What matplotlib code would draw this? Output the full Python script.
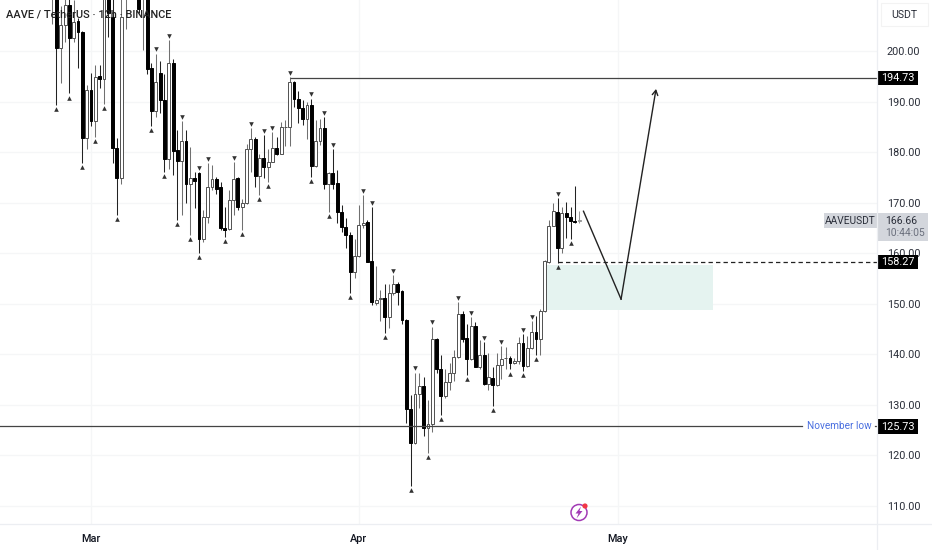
import matplotlib
matplotlib.use("Agg")
import matplotlib.pyplot as plt
from matplotlib.patches import Rectangle, Circle, Polygon
from matplotlib.transforms import blended_transform_factory

plt.rcParams['font.family'] = ['Roboto', 'DejaVu Sans']

# 12h candles, first one is 9 bars before 1 March (index 0)
FIRST_BAR = -9
opens = [212, 215, 200.5, 205.1, 209.1, 202.5, 205.9, 203.8, 182.7, 192.2,
         186.2, 195, 194.5, 214, 206.8, 180.9, 174.8, 212, 216, 218,
         215, 212, 215, 196.6, 188.1, 195.7, 190.4, 178.6, 197.6, 180.4,
         178.2, 182.1, 173.7, 174.8, 175.8, 162.8, 167.1, 173, 174.6, 173,
         165, 164.7, 170.5, 174.8, 169.2, 170, 180.7, 182.6, 175.3, 178.8,
         177.1, 178, 180.9, 179.6, 184.9, 184.9, 193.8, 190.6, 188.8, 186.5,
         189.3, 177.3, 182.1, 184.7, 173.7, 175.9, 173.8, 168.1, 165.2, 163.7,
         156.3, 159.5, 165.6, 166.1, 158.4, 150.2, 151, 151.1, 147.4, 152.1,
         154, 152.5, 146.8, 129.2, 122.5, 132.1, 133.8, 125.4, 126.3, 143,
         137.1, 131.8, 134.6, 136.4, 139.4, 148, 143.2, 139, 145.6, 137.5,
         139.8, 134.1, 135.4, 133.9, 137.9, 139.2, 139.3, 138.3, 138.7, 142.2,
         137.6, 141.2, 144.5, 143, 148.5, 158.2, 165.4, 168.1, 161, 167.9,
         167.2, 166.4, 166.3]
closes = [215, 200.5, 205.1, 209.1, 202.5, 205.8, 203.8, 182.7, 192.2, 186.2,
          194.9, 194.5, 214, 207.5, 180.9, 174.8, 206.7, 216, 218, 215,
          208.3, 216, 196.4, 188.1, 193.9, 190.3, 178.6, 197.6, 180.3, 178.2,
          182.1, 173.7, 174.8, 174.2, 162.8, 167.1, 173, 174.6, 172.8, 164.9,
          164.6, 170.5, 174.6, 169.2, 170, 180.7, 182.5, 175.3, 178.8, 177.1,
          178, 180.9, 179.6, 184.9, 185, 193.8, 190.6, 188.8, 186.5, 189.3,
          177.3, 182.1, 184.7, 173.7, 175.8, 173.7, 168.1, 165.2, 163.6, 156.3,
          159.5, 165.6, 166, 158.3, 150.3, 150.8, 151.1, 147.4, 152.1, 154,
          152.4, 146.7, 129.2, 122.5, 132.1, 133.8, 125.4, 126.3, 143, 137.1,
          131.8, 134.6, 136.4, 139.4, 148, 143.1, 139, 145.6, 137.5, 139.8,
          134.1, 135.5, 133.9, 137.9, 139, 139.3, 138.3, 138.7, 142.2, 137.6,
          141.2, 144.5, 143, 148.5, 158.4, 165.4, 168.3, 161, 167.9, 167.1,
          166.4, 166.2, 166.66]
highs = [216, 216, 209, 212, 211, 210.1, 206.5, 204, 193.3, 195.7,
         197.2, 197.2, 216, 216, 212, 182.7, 215, 218, 220, 219,
         218, 218, 218, 197.7, 199.5, 198, 195.4, 202.2, 198.5, 184.4,
         186.2, 184.4, 181, 176.1, 176.1, 168.5, 177.8, 177.4, 175, 174,
         169.2, 172.5, 178, 175.1, 170.8, 181.7, 184.8, 182.9, 179.7, 183.3,
         180.7, 184, 183, 186, 186.3, 194.9, 194.1, 192, 190.4, 190,
         190.6, 186.3, 186.6, 187, 176.1, 180.7, 176.4, 169.5, 166.9, 164.2,
         162.9, 169.5, 171.5, 166.6, 169.2, 157.4, 152.7, 153.9, 154, 155.7,
         154.4, 152.7, 146.9, 132, 136.4, 136.4, 135.6, 130.9, 145.5, 143.2,
         139.8, 137, 138.3, 140.8, 150.3, 148.5, 146, 147.4, 146.4, 142.9,
         142.4, 140.2, 137.5, 140.2, 141.6, 141.4, 139.7, 139.2, 143.4, 144.1,
         143.6, 146.6, 147.5, 148.9, 158.7, 166.6, 169.9, 170.9, 169.2, 170.2,
         169.2, 173.2, 168.3]
lows = [205.4, 189.3, 193.6, 201.8, 191.6, 201.8, 196.6, 177.8, 180.7, 185.2,
        183, 192.6, 189.6, 202.8, 177.8, 167.6, 173.6, 204.3, 213, 213,
        207.5, 200.2, 195.4, 185.2, 187, 187.8, 176.1, 176.6, 175.5, 166.6,
        167.6, 169.9, 163.6, 168.9, 160.1, 162.3, 165.9, 172.5, 171.8, 164.6,
        163.3, 164.6, 167.5, 168.5, 164.6, 169.7, 176.1, 173, 171.5, 174.8,
        174.1, 178, 179.4, 179.6, 181.2, 181.2, 189, 185.7, 185.4, 182.5,
        175.1, 177.1, 181.5, 172.8, 168.2, 172.8, 165.9, 164.2, 161.1, 152.1,
        155.1, 159.3, 165, 158.2, 149.8, 149.8, 146.5, 144.2, 145.2, 151.8,
        149.8, 146, 126.5, 114, 122.2, 129.4, 123.8, 120.4, 124.7, 136.4,
        128, 131.3, 133, 134.7, 139.3, 142.5, 136, 138.8, 137.4, 137,
        133.9, 132.9, 129.8, 133.7, 135.1, 137, 137, 138, 138, 136.7,
        137.4, 141, 139.8, 139.9, 148.4, 158, 165.3, 158.1, 160, 163,
        162.8, 165.9, 166]

swing_high_bars = [15, 18, 21, 25, 27, 33, 37, 40, 42, 46, 51, 54, 56, 63, 65,
                   70, 75, 79, 85, 88, 91, 95, 100, 102, 108]
swing_low_bars = [-8, -5, -2, 1, 3, 6, 14, 17, 20, 23, 25, 31, 35, 39, 41, 51,
                  55, 60, 68, 74, 78, 81, 87, 93, 97, 100, 103, 108, 111]

price_ticks = [110, 120, 130, 140, 150, 160, 170, 180, 190, 200]
month_bars = [0, 62, 122]
month_labels = ["Mar", "Apr", "May"]

resistance = 194.73
zone_top = 157.7
dashed_level = 158.27
november_low = 125.73
last_price = 166.66
zone_bottom = 148.7
zone_bars = [105, 144]
path_bars = [114, 122.7, 130.8]
path_prices = [168.3, 150.9, 192.5]

INK = "#131722"
TEXT = "#2a2e39"
PX = 4.32   # pixels per bar

fig = plt.figure(figsize=(9.32, 5.5), dpi=100, facecolor="white")
ax = fig.add_axes([0, 26/550, 877/932, 524/550])
ax.set_xlim(-91/PX, (877-91)/PX)
ax.set_ylim(106.43, 210.09)
for s in ax.spines.values():
    s.set_visible(False)

ax.set_yticks(price_ticks)
ax.set_yticklabels(["%.2f" % p for p in price_ticks], fontsize=7.8, color=TEXT)
ax.yaxis.tick_right()
ax.set_xticks(month_bars)
ax.set_xticklabels(month_labels, fontsize=7.8, color=INK, fontweight="medium")
ax.tick_params(length=0)
ax.tick_params(axis="y", pad=7)
ax.tick_params(axis="x", pad=7)
ax.grid(color="#f5f6f7", lw=0.9)
ax.set_axisbelow(True)

# the buy zone
ax.add_patch(Rectangle((zone_bars[0], zone_bottom), zone_bars[1]-zone_bars[0],
                       zone_top-zone_bottom, fc="#e5f3f0", ec="none", zorder=1))

# candles
bars = list(range(FIRST_BAR, FIRST_BAR+len(opens)))
for i, o, h, l, c in zip(bars, opens, highs, lows, closes):
    up = c >= o
    last = i == bars[-1]
    if last:
        wick, edge, face = "#9a9a9a", "#9a9a9a", "#bdbdbd"
    elif up:
        wick, edge, face = "#707070", "#505050", "white"
    else:
        wick, edge, face = "#222222", "black", "black"
    ax.vlines(i, l, h, color=wick, lw=0.75, zorder=2)
    ax.bar(i, abs(c-o), bottom=min(o, c), width=0.66, fc=face, ec=edge, lw=0.7, zorder=3)

offset = 0.8
ax.scatter(swing_high_bars, [highs[b-FIRST_BAR]+offset for b in swing_high_bars],
           marker="v", s=11, color="#333333", lw=0, zorder=4)
ax.scatter(swing_low_bars, [lows[b-FIRST_BAR]-offset for b in swing_low_bars],
           marker="^", s=11, color="#333333", lw=0, zorder=4)

# levels
ax.hlines(resistance, 46, ax.get_xlim()[1], color="#444444", lw=0.9, zorder=5)
ax.hlines(dashed_level, 108, ax.get_xlim()[1], color="#222222", lw=0.9,
          linestyles=(0, (3.5, 2.5)), zorder=5)
tr = blended_transform_factory(ax.transAxes, ax.transData)
ax.plot([0, 802/877], [november_low]*2, transform=tr, color="#444444", lw=0.9, zorder=5)
ax.plot([875/877, 1], [november_low]*2, transform=tr, color="#444444", lw=0.9, zorder=5)
ax.text(807/877, november_low, "November low", transform=tr, color="#4a6fe0",
        fontsize=7.2, va="center", ha="left", zorder=6)

# projected path
ax.plot(path_bars[:2], path_prices[:2], color="#222222", lw=1.0, zorder=5)
ax.annotate("", xy=(path_bars[2], path_prices[2]), xytext=(path_bars[1], path_prices[1]),
            arrowprops=dict(arrowstyle="->,head_length=0.35,head_width=0.2",
                            color="#222222", lw=1.0, shrinkA=0, shrinkB=0), zorder=5)

# price tags on the axis
for v in [resistance, dashed_level, november_low]:
    ax.add_patch(Rectangle((1, v-1.4), 41/877, 2.8, transform=tr, fc="black", ec="none",
                           clip_on=False, zorder=6))
    ax.text(1+20.5/877, v-0.05, "%.2f" % v, transform=tr, color="white", fontsize=7.8,
            ha="center", va="center", clip_on=False, zorder=7)

# chrome drawn in figure pixels
top = fig.add_axes([0, 0, 1, 1], facecolor="none")
top.set_xlim(0, 932)
top.set_ylim(550, 0)
top.axis("off")
top.plot([877, 877], [0, 550], color="#eceef2", lw=0.9)
top.plot([0, 932], [524, 524], color="#eceef2", lw=0.9)
top.add_patch(Rectangle((881, 3), 47, 23, fc="white", ec="#f3f3f3", lw=0.8))
top.text(904.5, 15, "USDT", fontsize=7.6, color=TEXT, ha="center", va="center")
top.text(6.5, 15, "AAVE / TetherUS · 12h · BINANCE", fontsize=7.9, color="#222222",
         fontweight="medium", ha="left", va="center")

top.add_patch(Rectangle((824, 213), 53, 15, fc="#d3d6dc", ec="none"))
top.add_patch(Rectangle((877, 213), 51, 28, fc="#d3d6dc", ec="none"))
top.text(850.5, 220.5, "AAVEUSDT", fontsize=7.3, color=TEXT, ha="center", va="center")
top.text(885.5, 220.5, "%.2f" % last_price, fontsize=7.6, color=TEXT, ha="left", va="center")
top.text(885.5, 233.5, "10:44:05", fontsize=7.4, color="#6a6f7c", ha="left", va="center")

# bolt icon
top.add_patch(Circle((579, 512.5), 8, fc="white", ec="#a23ab5", lw=1.1))
top.add_patch(Polygon([(581, 506.5), (575.5, 513.5), (578.5, 513.5), (576.5, 518.5),
                       (582.5, 511), (579.5, 511)], fc="#a23ab5", ec="none"))
top.add_patch(Circle((585, 506), 2.6, fc="#f23645", ec="none"))

fig.savefig("out.png", dpi=100)
